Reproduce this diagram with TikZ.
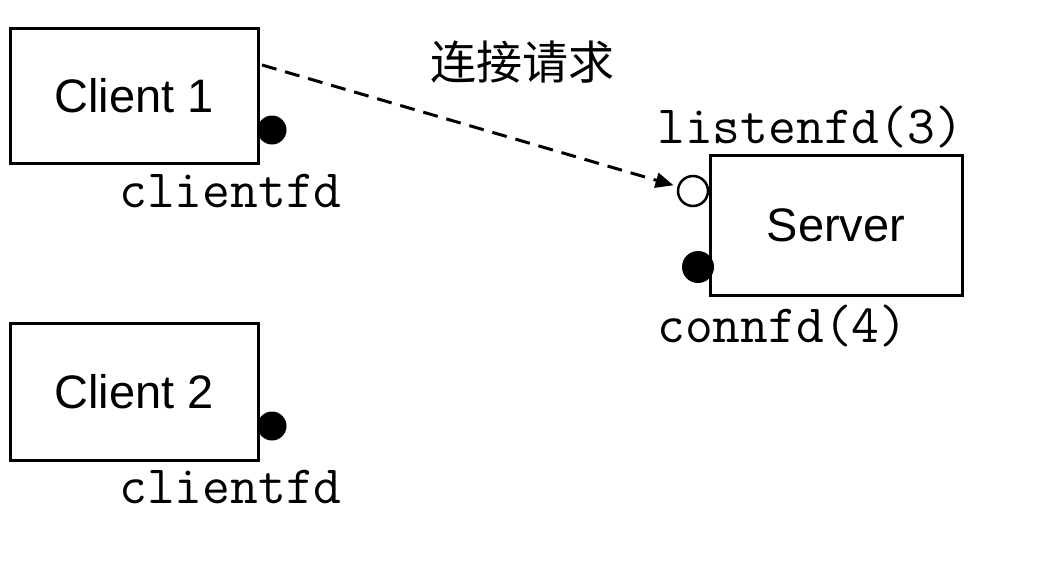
\documentclass[tikz,border=0pt]{standalone}
\usepackage{fontspec}
\newfontfamily\boxfont{Liberation Sans}
\newfontfamily\cjk{Noto Sans CJK SC}
\usetikzlibrary{arrows.meta}
\begin{document}
\begin{tikzpicture}[x=1pt,y=-1pt,
  hostbox/.style={draw,line width=3pt,inner sep=0pt,font=\boxfont\fontsize{47}{50}\selectfont},
  fdlabel/.style={inner sep=0pt,anchor=base west,font=\ttfamily\fontsize{54}{56}\selectfont},
  sockfull/.style={circle,fill=black,inner sep=0pt,minimum size=29pt},
  sockopen/.style={circle,draw,line width=2.5pt,fill=white,inner sep=0pt,minimum size=30pt},
  request/.style={line width=3pt,dash pattern=on 15pt off 9pt,shorten >=4pt,-{Triangle[length=18pt,width=15pt]}}]
\useasboundingbox (0,0) rectangle (1042,568);
\node[hostbox,minimum width=248pt,minimum height=135pt] (c1) at (134,95.5) {Client 1};
\node[hostbox,minimum width=248pt,minimum height=137pt] (c2) at (134,391.5) {Client 2};
\node[hostbox,minimum width=252pt,minimum height=140pt] (srv) at (836,225) {Server};
\node[sockfull] (d1) at (272,130) {};
\node[sockfull] (d2) at (272,426) {};
\node[sockopen] (lfd) at (693,191) {};
\node[sockfull,minimum size=32pt] (cfd) at (698,267) {};
\node[fdlabel] (l1) at (119,207) {clientfd};
\node[fdlabel] (l2) at (119,503) {clientfd};
\node[fdlabel] (l3) at (657,143) {listenfd(3)};
\node[fdlabel] (l4) at (657,342) {connfd(4)};
\node[inner sep=0pt,font=\cjk\fontsize{46}{50}\selectfont] (req) at (522,62) {连接请求};
\coordinate (start) at (262,65);
\draw[request] (start) -- (lfd);
\end{tikzpicture}
\end{document}
